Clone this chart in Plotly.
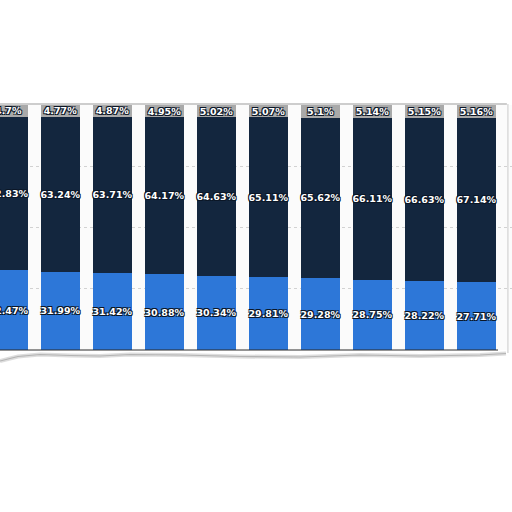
import plotly.graph_objects as go

# share of each segment per period (left bar is cut off by the crop)
periods = ["P1", "P2", "P3", "P4", "P5", "P6", "P7", "P8", "P9", "P10"]
top_share = [4.7, 4.77, 4.87, 4.95, 5.02, 5.07, 5.1, 5.14, 5.15, 5.16]
mid_share = [62.83, 63.24, 63.71, 64.17, 64.63, 65.11, 65.62, 66.11, 66.63, 67.14]
low_share = [32.47, 31.99, 31.42, 30.88, 30.34, 29.81, 29.28, 28.75, 28.22, 27.71]

OUTLINE = "#0b1626"
shadow = ", ".join(
    f"{dx}px {dy}px 0 {OUTLINE}" for dx in (-1, 1) for dy in (-1, 1)
)
label_font = dict(family="DejaVu Sans", size=9.5, color="white", weight="bold",
                  shadow=shadow)


def pct(vals):
    return [f"{v:g}%" for v in vals]


def seg(name, vals, color):
    return go.Bar(
        x=periods, y=vals, name=name, marker=dict(color=color, line_width=0),
        text=pct(vals), textposition="inside", insidetextanchor="middle",
        textangle=0, constraintext="none", textfont=label_font,
        hoverinfo="skip",
    )


fig = go.Figure([
    seg("low", low_share, "#2d77d8"),
    seg("mid", mid_share, "#13263e"),
    seg("top", top_share, "#a9a9a9"),
])


# torn paper edge under the bars (pixel coords -> paper coords)
def to_paper(px, py):
    return px / 512, (350 - py) / 245


edge = [(0, 361), (8, 359), (18, 356.5), (40, 354.5), (70, 355.5), (100, 356),
        (130, 354.5), (180, 355), (240, 356.5), (300, 357), (360, 355),
        (420, 356), (480, 355), (506, 353.5)]
pts = [to_paper(*p) for p in edge]
path = "M " + " L ".join(f"{x:.4f},{y:.4f}" for x, y in pts)

fig.update_layout(
    width=512, height=512,
    margin=dict(l=0, r=0, t=105, b=162),
    barmode="stack", bargap=0.25,
    showlegend=False,
    paper_bgcolor="white", plot_bgcolor="#fbfbfb",
    xaxis=dict(range=[-0.163, 9.683], showticklabels=False, ticks="",
               showgrid=False, showline=False, zeroline=False),
    yaxis=dict(range=[0, 100], tickvals=[25, 50, 75], showticklabels=False,
               showgrid=True, gridcolor="#d2d2d2", griddash="dot",
               zeroline=False, showline=False),
    shapes=[
        dict(type="path", xref="paper", yref="paper", path=path,
             line=dict(color="rgba(120,120,120,0.25)", width=4)),
        dict(type="path", xref="paper", yref="paper", path=path,
             line=dict(color="#b4b4b4", width=1.2)),
        dict(type="line", xref="paper", yref="paper", x0=0, x1=498 / 512,
             y0=0, y1=0, line=dict(color="#2a2a2a", width=1)),
        dict(type="line", xref="paper", yref="paper", x0=0, x1=0.99,
             y0=1.004, y1=1.004, line=dict(color="#bdbdbd", width=1.5)),
        dict(type="line", xref="paper", yref="paper", x0=0.992, x1=0.992,
             y0=1.004, y1=-0.012, line=dict(color="#dadada", width=1.5)),
    ],
)

fig.write_html("out.html", config={"displayModeBar": False},
               post_script="document.body.style.margin='0px';")
